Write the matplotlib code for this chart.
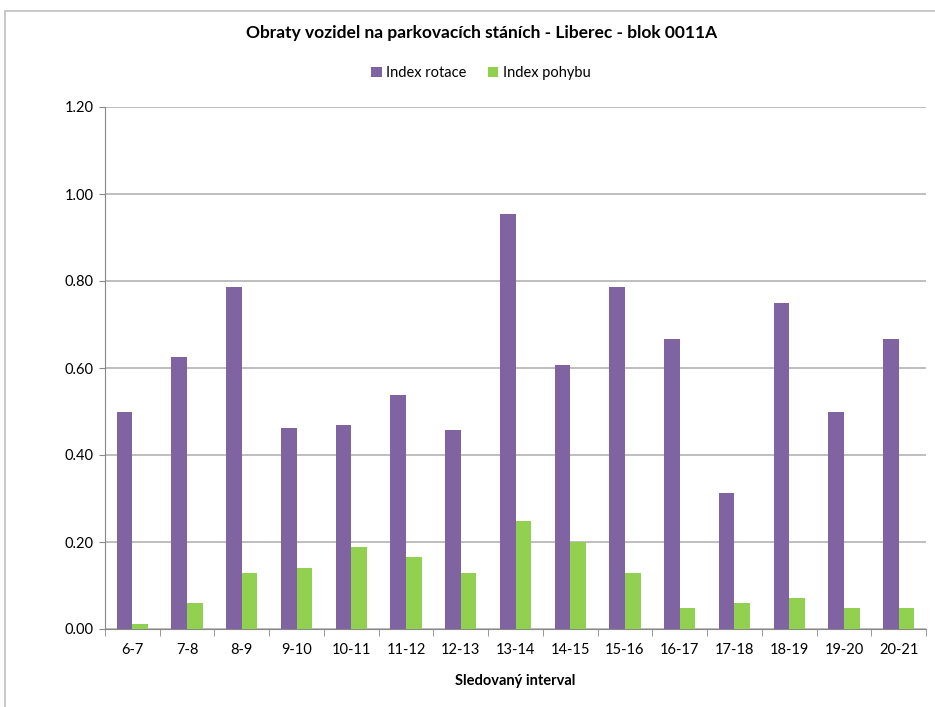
import numpy as np
import matplotlib.pyplot as plt
from matplotlib.patches import Rectangle

plt.rcParams['font.family'] = ['Lato', 'DejaVu Sans']

# data
intervals = ['6-7', '7-8', '8-9', '9-10', '10-11', '11-12', '12-13', '13-14',
             '14-15', '15-16', '16-17', '17-18', '18-19', '19-20', '20-21']
index_rotace = [0.50, 0.625, 0.786, 0.462, 0.469, 0.538, 0.458, 0.955,
                0.607, 0.786, 0.667, 0.313, 0.75, 0.50, 0.667]
index_pohybu = [0.011, 0.06, 0.129, 0.14, 0.189, 0.166, 0.129, 0.248,
                0.20, 0.129, 0.048, 0.06, 0.071, 0.048, 0.048]

W, H = 935, 707
fig = plt.figure(figsize=(W / 100, H / 100), dpi=100)
fig.patches.append(Rectangle((5 / W, -0.1), 1.2, 1 - 11 / H + 0.1,
                             transform=fig.transFigure, fill=False,
                             edgecolor='#BFBFBF', linewidth=1.2))

ax = fig.add_axes([105 / W, 1 - 629 / H, (926 - 105) / W, (629 - 107) / H])

x = np.arange(len(intervals))
bw = 1 / 3.5
ax.bar(x - bw / 2, index_rotace, bw, color='#8064A2', label='Index rotace', zorder=3)
ax.bar(x + bw / 2, index_pohybu, bw, color='#92D050', label='Index pohybu', zorder=3)

ax.set_xlim(-0.5, len(intervals) - 0.5)
ax.set_ylim(0, 1.2)
ax.set_yticks(np.arange(0, 1.21, 0.2))
ax.set_yticklabels([f'{v:.2f}' for v in np.arange(0, 1.21, 0.2)], fontsize=10.5)
ax.set_xticks(x)
ax.set_xticklabels(intervals, fontsize=10.5)
ax.tick_params(axis='x', length=0, pad=10)
ax.set_xticks(np.arange(-0.5, len(intervals)), minor=True)
ax.tick_params(axis='x', which='minor', length=5, color='#888888')
ax.tick_params(axis='y', length=4, color='#888888', pad=4)
ax.grid(axis='y', color='#B3B3B3', linewidth=1.2, zorder=0)

for s in ['top', 'right']:
    ax.spines[s].set_visible(False)
ax.spines['left'].set_color('#888888')
ax.spines['bottom'].set_color('#888888')

ax.set_xlabel('Sledovaný interval', fontsize=10.5, fontweight='bold', labelpad=12)
fig.text(482 / W, 1 - 33 / H,
         'Obraty vozidel na parkovacích stáních - Liberec - blok 0011A',
         ha='center', va='center', fontsize=12.5, fontweight='bold')
ax.legend(loc='center', bbox_to_anchor=((481 - 105) / (926 - 105), (73 - 629) / (107 - 629)),
          ncol=2, frameon=False, fontsize=10.5, handlelength=0.7,
          handleheight=0.7, handletextpad=0.3, columnspacing=1.5)

fig.savefig('out.png', dpi=100)
